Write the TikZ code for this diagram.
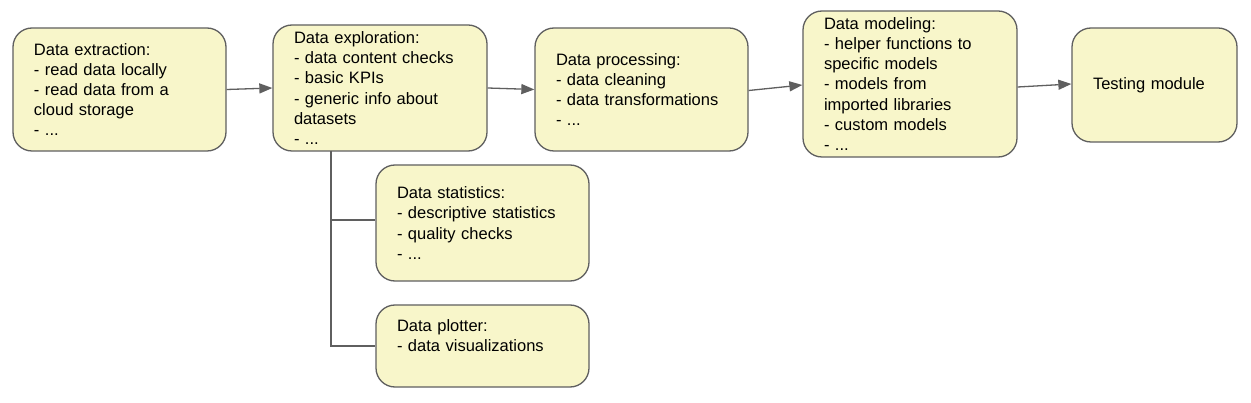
\documentclass[tikz,border=0pt]{standalone}
\usepackage{fontspec}
\setmainfont{Liberation Sans}
\usetikzlibrary{arrows.meta}
\definecolor{boxfill}{RGB}{248,246,202}
\definecolor{edgegray}{RGB}{95,95,95}
\begin{document}
\begin{tikzpicture}[x=1pt,y=-1pt,
  box/.style={draw=edgegray, fill=boxfill, rounded corners=19pt, line width=1.3pt,
    inner xsep=21pt, inner ysep=0pt, align=left,
    font=\fontsize{16.5}{20.2}\selectfont},
  flow/.style={draw=edgegray, line width=1.3pt, -{Triangle[length=13pt,width=10pt]}},
  branch/.style={draw=edgegray, line width=1.3pt}]
\useasboundingbox[fill=white] (0,0) rectangle (1251,403);
\node[box, text width=171pt, minimum height=123pt] (b1) at (119.5,89.5)
  {Data extraction:\\- read data locally\\- read data from a\\cloud storage\\- ...};
\node[box, text width=172pt, minimum height=126pt] (b2) at (380,88)
  {Data exploration:\\- data content checks\\- basic KPIs\\- generic info about\\datasets\\- ...};
\node[box, text width=171pt, minimum height=123pt] (b3) at (641.5,89.5)
  {Data processing:\\- data cleaning\\- data transformations\\- ...};
\node[box, text width=172pt, minimum height=146pt] (b4) at (910,84)
  {Data modeling:\\- helper functions to\\specific models\\- models from\\imported libraries\\- custom models\\- ...};
\node[box, text width=123pt, minimum height=114pt] (b5) at (1154.5,85)
  {Testing module};
\node[box, text width=171pt, minimum height=116pt] (b6) at (482.5,223)
  {Data statistics:\\- descriptive statistics\\- quality checks\\- ...};
\node[box, text width=171pt, minimum height=82pt] (b7) at (482.5,346)
  {Data plotter:\\- data visualizations\\\mbox{}};
\draw[flow] (b1.east) -- (b2.west);
\draw[flow] (b2.east) -- (b3.west);
\draw[flow] ([yshift=-1pt]b3.east) -- ([yshift=-1pt]b4.west);
\draw[flow] ([yshift=-3pt]b4.east) -- ([yshift=1pt]b5.west);
\coordinate (top) at (331,151);
\coordinate (in6) at ([yshift=3pt]b6.west);
\draw[branch] (top) |- (b7.west);
\draw[branch] (top |- in6) -- (in6);
\end{tikzpicture}
\end{document}
